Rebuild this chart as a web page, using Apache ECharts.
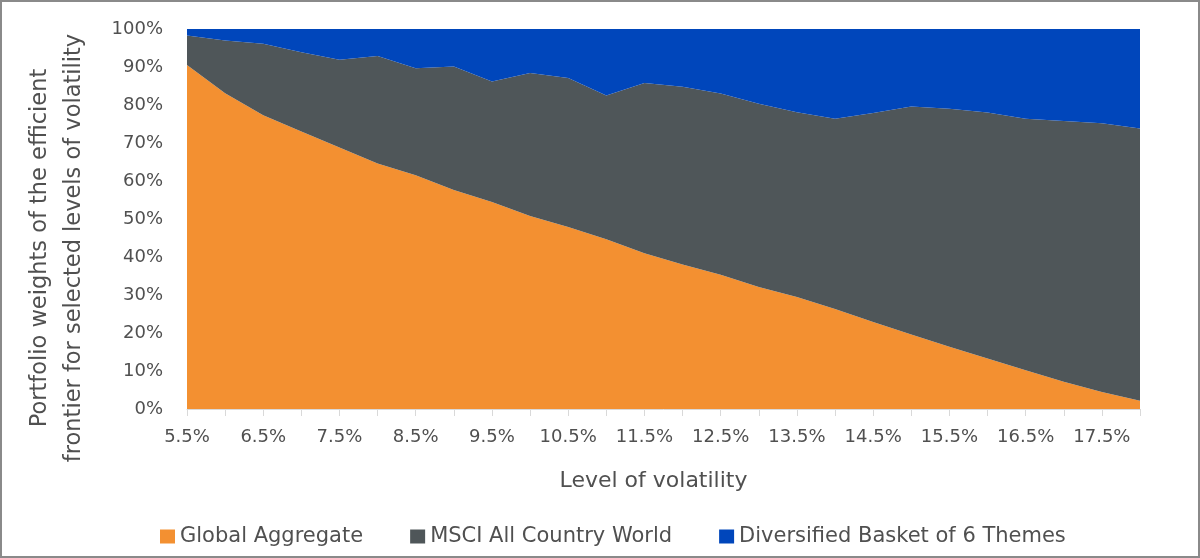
<!DOCTYPE html>
<html>
<head>
<meta charset="utf-8">
<script src="https://cdn.jsdelivr.net/npm/echarts@6/dist/echarts.min.js"></script>
<style>
  html, body { margin: 0; padding: 0; background: #fff; }
  #chart { width: 1200px; height: 558px; }
</style>
</head>
<body>
<div id="chart"></div>
<script>
// volatility levels (x axis)
var volLevels = ['5.5%', '6.0%', '6.5%', '7.0%', '7.5%', '8.0%', '8.5%', '9.0%', '9.5%', '10.0%',
                 '10.5%', '11.0%', '11.5%', '12.0%', '12.5%', '13.0%', '13.5%', '14.0%', '14.5%',
                 '15.0%', '15.5%', '16.0%', '16.5%', '17.0%', '17.5%', '18.0%'];

// portfolio weights in %
var globalAggregate = [90.5, 83.1, 77.3, 73.0, 68.8, 64.6, 61.5, 57.6, 54.5, 50.8, 47.9, 44.7, 41.0,
                       38.0, 35.3, 32.1, 29.5, 26.3, 22.9, 19.6, 16.4, 13.3, 10.2, 7.2, 4.5, 2.2];
var msciAcwi = [7.8, 13.9, 18.8, 20.9, 23.1, 28.3, 28.2, 32.5, 31.7, 37.6, 39.2, 37.8, 44.8,
                46.8, 47.7, 48.2, 48.6, 50.1, 55.0, 60.0, 62.6, 64.7, 66.2, 68.6, 70.7, 71.6];
var themesBasket = [1.7, 3.0, 3.9, 6.1, 8.1, 7.1, 10.3, 9.9, 13.8, 11.6, 12.9, 17.5, 14.2,
                    15.2, 17.0, 19.7, 21.9, 23.6, 22.1, 20.4, 21.0, 22.0, 23.6, 24.2, 24.8, 26.2];

var seriesNames = ['Global Aggregate', 'MSCI All Country World', 'Diversified Basket of 6 Themes'];
var colores = ['#F39031', '#4F5659', '#0046BB'];

var font = 'DejaVu Sans';
var txtColor = '#505050';

function areaSerie(name, data) {
    return {
        name: name,
        type: 'line',
        stack: 'total',
        symbol: 'none',
        lineStyle: { width: 0 },
        areaStyle: { opacity: 1 },
        data: data
    };
}

var chart = echarts.init(document.getElementById('chart'));
var option = {
    animation: false,
    color: colores,
    textStyle: { fontFamily: font },
    grid: { left: 187, right: 60, top: 29, bottom: 149, containLabel: false, outerBoundsMode: 'none' },
    legend: {
        data: seriesNames,
        left: 160,
        top: 526,
        padding: 0,
        icon: 'rect',
        itemWidth: 15,
        itemHeight: 14,
        itemGap: 47,
        textStyle: { fontSize: 21, color: txtColor, fontFamily: font }
    },
    xAxis: {
        type: 'category',
        data: volLevels,
        boundaryGap: false,
        name: 'Level of volatility',
        nameLocation: 'middle',
        nameGap: 61,
        nameTextStyle: { fontSize: 22, color: txtColor, fontFamily: font, padding: [0, 20, 0, 0] },
        axisLine: { lineStyle: { color: '#d9d9d9' } },
        axisTick: { interval: 0, length: 7, lineStyle: { color: '#d9d9d9' } },
        axisLabel: { interval: 1, fontSize: 18, color: txtColor, margin: 19 },
        splitLine: { show: false }
    },
    yAxis: {
        type: 'value',
        min: 0,
        max: 100,
        interval: 10,
        name: 'Portfolio weights of the efficient\nfrontier for selected levels of volatility',
        nameLocation: 'middle',
        nameGap: 96,
        nameTextStyle: {
            fontSize: 22.5, lineHeight: 34, color: txtColor, fontFamily: font,
            padding: [0, 58, 0, 0]
        },
        axisLine: { show: false },
        axisTick: { show: false },
        splitLine: { show: false },
        axisLabel: { formatter: '{value}%', fontSize: 18, color: txtColor, margin: 24 }
    },
    graphic: [{
        type: 'rect',
        shape: { x: 1, y: 1, width: 1198, height: 556 },
        style: { fill: 'none', stroke: '#8a8a8a', lineWidth: 2 },
        silent: true
    }],
    series: [
        areaSerie(seriesNames[0], globalAggregate),
        areaSerie(seriesNames[1], msciAcwi),
        areaSerie(seriesNames[2], themesBasket)
    ]
};
chart.setOption(option);
</script>
</body>
</html>
